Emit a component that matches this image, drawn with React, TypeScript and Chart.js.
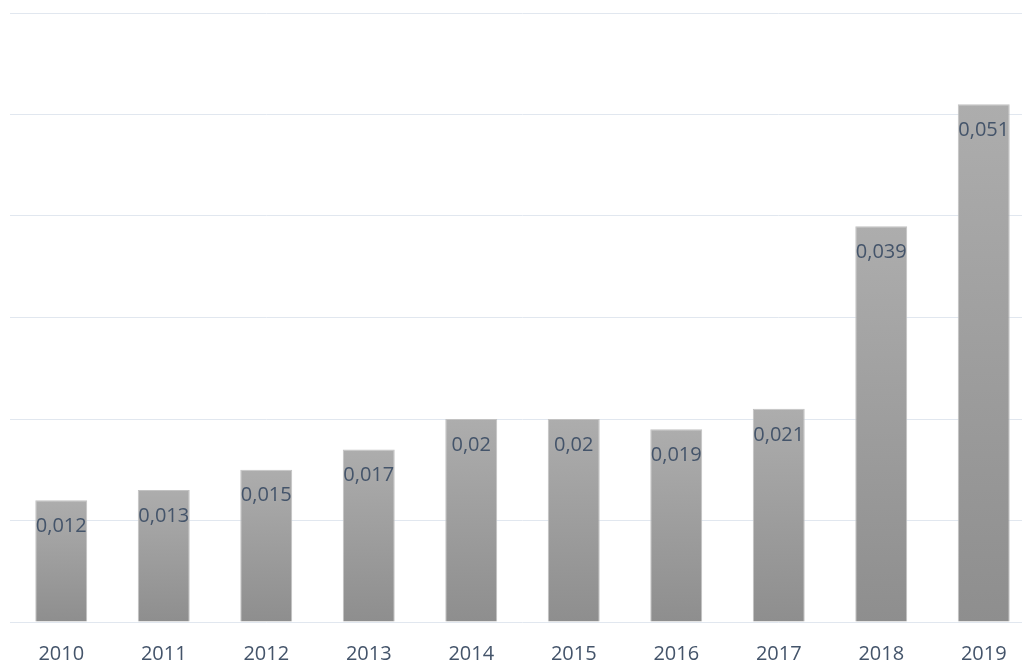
import React, { useEffect, useRef } from "react";
import { Chart, registerables } from "chart.js";

Chart.register(...registerables);

const categories = ["2010", "2011", "2012", "2013", "2014", "2015", "2016", "2017", "2018", "2019"];
const values = [0.012, 0.013, 0.015, 0.017, 0.02, 0.02, 0.019, 0.021, 0.039, 0.051];
const yMax = 0.06;
const yStep = 0.01;

const TEXT_COLOR = "#44546a";
const FONT_FAMILY = "'Open Sans', 'Liberation Sans', sans-serif";

const fmt = (v: number) => String(v).replace(".", ",");

const labelPlugin = {
  id: "barLabels",
  afterDatasetsDraw(chart: any) {
    const ctx = chart.ctx;
    const meta = chart.getDatasetMeta(0);
    ctx.save();
    ctx.font = `20px ${FONT_FAMILY}`;
    ctx.fillStyle = TEXT_COLOR;
    ctx.textAlign = "center";
    ctx.textBaseline = "middle";
    meta.data.forEach((el: any, i: number) => {
      ctx.fillText(fmt(values[i]), el.x, el.y + 26);
    });
    ctx.restore();
  },
};

export default function App() {
  const ref = useRef<HTMLCanvasElement>(null);

  useEffect(() => {
    document.body.style.overflow = "hidden";
    const canvas = ref.current!;
    const chart = new Chart(canvas, {
      type: "bar",
      data: {
        labels: categories,
        datasets: [
          {
            data: values,
            backgroundColor: (c: any) => {
              const chartObj = c.chart;
              const ys = chartObj.scales?.y;
              const v = values[c.dataIndex];
              if (!ys || v == null) return "#a0a0a0";
              const top = ys.getPixelForValue(v);
              const bottom = ys.getPixelForValue(0);
              if (!isFinite(top) || !isFinite(bottom) || top === bottom) return "#a0a0a0";
              const g = chartObj.ctx.createLinearGradient(0, top, 0, bottom);
              g.addColorStop(0, "#adadad");
              g.addColorStop(1, "#8e8e8e");
              return g;
            },
            borderColor: "#c2c2c2",
            borderWidth: { left: 1, right: 1, top: 1, bottom: 0 },
            borderSkipped: "bottom",
            categoryPercentage: 1,
            barPercentage: 0.507,
          },
        ],
      },
      options: {
        responsive: false,
        animation: false,
        devicePixelRatio: 1,
        layout: { padding: { left: 10, right: 0, top: 13, bottom: 0 } },
        plugins: { legend: { display: false }, tooltip: { enabled: false } },
        scales: {
          x: {
            grid: { display: false, drawTicks: false },
            border: { display: false },
            ticks: {
              color: TEXT_COLOR,
              font: { family: FONT_FAMILY, size: 20 },
              padding: 20,
              maxRotation: 0,
              autoSkip: false,
            },
            afterFit: (axis: any) => {
              axis.height = 38;
            },
          },
          y: {
            min: 0,
            max: yMax,
            ticks: { display: false, stepSize: yStep },
            grid: { color: "#e1e7ef", lineWidth: 1, drawTicks: false },
            border: { display: false },
            afterFit: (axis: any) => {
              axis.width = 0;
            },
          },
        },
      },
      plugins: [labelPlugin],
    });
    return () => chart.destroy();
  }, []);

  return (
    <div
      style={{
        position: "absolute",
        left: 0,
        top: 0,
        width: 1022,
        height: 660,
        overflow: "hidden",
        background: "#ffffff",
      }}
    >
      <canvas ref={ref} width={1035} height={660} style={{ display: "block", width: 1035, height: 660 }} />
    </div>
  );
}
